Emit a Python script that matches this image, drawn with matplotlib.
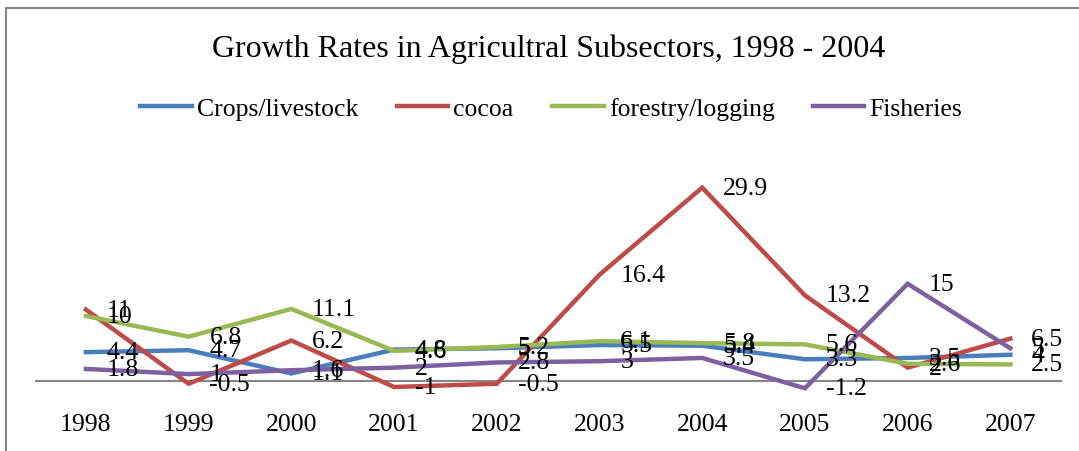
import matplotlib.pyplot as plt
from matplotlib.patches import Rectangle

years = ['1998', '1999', '2000', '2001', '2002', '2003', '2004', '2005', '2006', '2007']
crops = [4.4, 4.7, 1.1, 4.8, 5.0, 5.5, 5.4, 3.3, 3.5, 4]
cocoa = [11, -0.5, 6.2, -1, -0.5, 16.4, 29.9, 13.2, 2.0, 6.5]
forestry = [10, 6.8, 11.1, 4.6, 5.2, 6.1, 5.8, 5.6, 2.6, 2.5]
fisheries = [1.8, 1, 1.6, 2, 2.8, 3, 3.5, -1.2, 15, 5]

series = [
    ('Crops/livestock', crops, '#4A7EBB'),
    ('cocoa', cocoa, '#BE4B48'),
    ('forestry/logging', forestry, '#98B954'),
    ('Fisheries', fisheries, '#7D60A0'),
]

plt.rcParams['font.family'] = ['Liberation Serif', 'DejaVu Serif']

fig = plt.figure(figsize=(10.79, 4.52), dpi=100)
ax = fig.add_axes([0.032, 0.0845, 0.952, 0.571])

x = list(range(len(years)))
for name, vals, col in series:
    ax.plot(x, vals, color=col, lw=3.2, label=name, solid_joinstyle='miter')
    for xi, v in zip(x, vals):
        ax.annotate(f'{v:g}', (xi, v), xytext=(15, 0), textcoords='offset points',
                    ha='left', va='center', fontsize=18.5)

ax.axhline(0, color='#868686', lw=1.5, zorder=0)
ax.set_xlim(-0.5, len(years) - 0.5)
ax.set_ylim(-5, 35)
ax.set_xticks(x)
ax.set_xticklabels(years, fontsize=18.5)
ax.tick_params(axis='x', length=0, pad=0)
ax.set_yticks([])
for s in ax.spines.values():
    s.set_visible(False)

fig.text(0.508, 0.892, 'Growth Rates in Agricultral Subsectors, 1998 - 2004',
         ha='center', va='center', fontsize=23)
fig.legend(loc='center', bbox_to_anchor=(0.511, 0.758), ncol=4, frameon=False,
           fontsize=18.5, handlelength=2.0, handletextpad=0.2, columnspacing=1.5)

fig.patches.append(Rectangle((6 / 1079, -0.1), 1.2, 1.1 - 9 / 452,
                             transform=fig.transFigure, fill=False,
                             edgecolor='#868686', lw=1.5))

fig.savefig('out.png', dpi=100)
